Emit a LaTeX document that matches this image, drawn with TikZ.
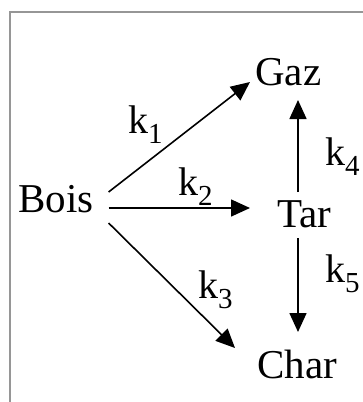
\documentclass[tikz,border=0pt]{standalone}
\usepackage{fontspec}
\setmainfont{Liberation Serif}
\usetikzlibrary{arrows.meta}
\definecolor{framegray}{RGB}{150,150,150}
\newcommand{\rate}[1]{k\raisebox{-10pt}{\fontsize{29}{29}\selectfont #1}}

\begin{document}
\begin{tikzpicture}[x=1pt,y=1pt,
  species/.style={inner sep=0pt,anchor=base west,font=\fontsize{41}{41}\selectfont},
  ratelbl/.style={inner sep=0pt,anchor=base west,font=\fontsize{40}{40}\selectfont},
  reac/.style={line width=1.6pt,-{Triangle[length=19pt,width=17pt]}}]
\useasboundingbox (0,0) rectangle (363,-402);

% frame
\draw[framegray,line width=1.2pt] (10,-402) -- (10,-12) -- (363,-12);

\node[species] (Bois) at (18,-212) {Bois};
\node[species] (Gaz) at (255,-85) {Gaz};
\node[species] (Tar) at (277,-227) {Tar};
\node[species] (Char) at (257,-378) {Char};

\draw[reac] ([shift={(15,20)}]Bois.base east) -- ([shift={(-5,3)}]Gaz.base west);
\draw[reac] ([shift={(15,4)}]Bois.base east) -- ([shift={(-27,19)}]Tar.base west);
\draw[reac] ([shift={(15,-11)}]Bois.base east) -- ([shift={(-22,30)}]Char.base west);
\draw[reac] ([shift={(21,35)}]Tar.base west) -- ([shift={(43,-15)}]Gaz.base west);
\draw[reac] ([shift={(21,-11)}]Tar.base west) -- ([shift={(41,46)}]Char.base west);

\node[ratelbl] (k1) at (128,-133) {\rate{1}};
\node[ratelbl] (k2) at (178,-195) {\rate{2}};
\node[ratelbl] (k3) at (198,-298) {\rate{3}};
\node[ratelbl] (k4) at (325,-165) {\rate{4}};
\node[ratelbl] (k5) at (325,-282) {\rate{5}};
\end{tikzpicture}
\end{document}
